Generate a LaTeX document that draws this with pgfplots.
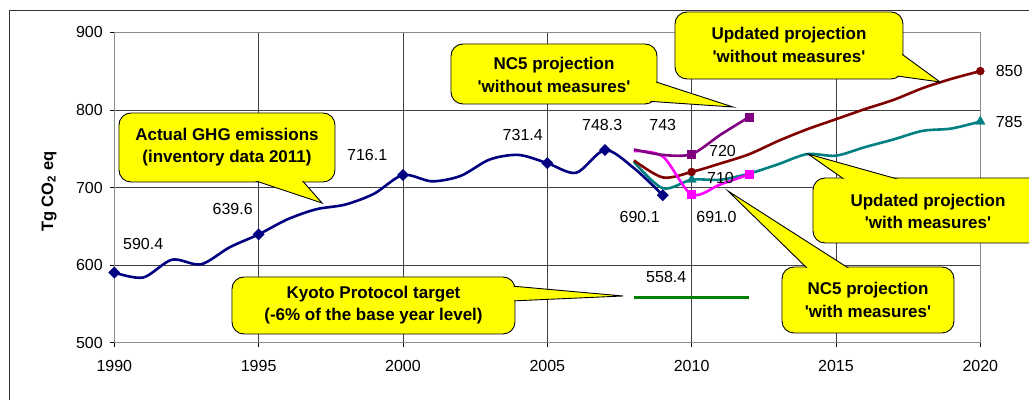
\documentclass[border=0pt]{standalone}
\usepackage{pgfplots}
\pgfplotsset{compat=1.18}
\usepackage{fontspec}
\setmainfont{Liberation Sans}
\definecolor{cnavy}{RGB}{0,0,128}
\definecolor{cpurple}{RGB}{128,0,128}
\definecolor{cmagenta}{RGB}{255,0,255}
\definecolor{cdred}{RGB}{128,0,0}
\definecolor{cteal}{RGB}{0,128,128}
\definecolor{cgreen}{RGB}{0,128,0}
\definecolor{cyellow}{RGB}{255,255,0}
\newcommand{\lf}{\fontsize{16bp}{19bp}\selectfont}
\newcommand{\cbf}{\fontsize{17bp}{22.7bp}\selectfont\bfseries}
\newcommand{\q}{\textquotesingle}
\begin{document}
\lf
\begin{tikzpicture}
\clip (-114.3bp,-57.3bp) rectangle (914.7bp,342.7bp);
\draw[line width=0.8bp, black!80] (-105bp,-90bp) rectangle (960bp,332.4bp);
\begin{axis}[
  at={(0,0)}, anchor=south west,
  scale only axis, width=866bp, height=310.4bp,
  xmin=1990, xmax=2020, ymin=500, ymax=900,
  xtick={1990,1995,...,2020}, ytick={500,600,...,900},
  grid=major, major grid style={black!75, line width=0.6bp},
  axis line style={black!45, line width=0.6bp},
  tick align=outside, tick pos=left, major tick length=4bp,
  tick style={black, line width=0.6bp},
  ticklabel style={font=\lf},
  /pgf/number format/assume math mode=true,
  x tick label style={/pgf/number format/1000 sep={}, yshift=-8bp},
  y tick label style={xshift=-2bp},
  clip=false,
]
\addplot[cteal, line width=2.6bp, smooth, mark=triangle*, mark size=5.5bp,
  mark options={solid, line width=0.4bp}, mark indices={3,13}] coordinates {
(2008,733)(2009,699)(2010,710)(2011,710)(2012,718)(2013,730)(2014,743)(2015,741)(2016,752)(2017,762)(2018,773)(2019,776)(2020,785)};
\addplot[cdred, line width=2.6bp, smooth, mark=*, mark size=4bp,
  mark options={solid, line width=0.4bp}, mark indices={3,13}] coordinates {
(2008,735)(2009,713)(2010,720)(2011,731)(2012,743)(2013,760)(2014,775)(2015,788)(2016,801)(2017,813)(2018,828)(2019,840)(2020,850)};
\addplot[cmagenta, line width=2.6bp, smooth, mark=square*, mark size=4bp,
  mark options={solid, line width=0.4bp}, mark indices={3,5}] coordinates {
(2008,747)(2009,740)(2010,691)(2011,704)(2012,717)};
\addplot[cpurple, line width=2.6bp, smooth, mark=square*, mark size=4bp,
  mark options={solid, line width=0.4bp}, mark indices={3,5}] coordinates {
(2008,749)(2009,742)(2010,743)(2011,768)(2012,791)};
\addplot[cgreen, line width=2.6bp] coordinates {(2008,558.4)(2012,558.4)};
\addplot[cnavy, line width=2.6bp, smooth, mark=square*, mark size=4bp,
  mark options={solid, rotate=45, line width=0.4bp}, mark indices={1,6,11,16,18,20}] coordinates {
(1990,590.4)(1991,584)(1992,607)(1993,601)(1994,623)(1995,639.6)(1996,659)(1997,672)(1998,678)(1999,692)(2000,716.1)(2001,708)(2002,715)(2003,736)(2004,742)(2005,731.4)(2006,719)(2007,748.3)(2008,725)(2009,690.1)};
\node at (axis cs:1991.0,627) {590.4};
\node at (axis cs:1994.1,672) {639.6};
\node at (axis cs:1998.76,742) {716.1};
\node at (axis cs:2004.15,767.6) {731.4};
\node at (axis cs:2006.9,780) {748.3};
\node at (axis cs:2009.0,780) {743};
\node at (axis cs:2011.07,747.5) {720};
\node at (axis cs:2011.0,712) {710};
\node at (axis cs:2008.2,661.6) {690.1};
\node at (axis cs:2010.86,661.6) {691.0};
\node at (axis cs:2009.12,585) {558.4};
\node at (axis cs:2021.0,850.5) {850};
\node at (axis cs:2021.0,785) {785};
\end{axis}
\node[rotate=90, font=\fontsize{16.5bp}{19bp}\selectfont\bfseries] at (-65.3bp,151bp) {Tg CO\textsubscript{2} eq};
\begin{scope}[x=1bp,y=-1bp,shift={(-114.3bp,342.7bp)}]
\tikzset{cbox/.style={fill=cyellow, draw=black, line width=0.9bp, rounded corners=12bp},
         cptr/.style={fill=cyellow, draw=black, line width=0.9bp, line join=miter},
         cfill/.style={fill=cyellow, rounded corners=11bp}}
% Actual GHG emissions
\draw[cbox] (119,113) rectangle (335,182);
\draw[cptr] (247,178) -- (322,203) -- (300,178);
\fill[cfill] (120,114) rectangle (334,181);
\node[align=center, font=\cbf] at (227,147) {Actual GHG emissions\\(inventory data 2011)};
% Kyoto
\draw[cbox] (232,277) rectangle (515,334);
\draw[cptr] (511,286) -- (623,296) -- (511,301);
\fill[cfill] (233,278) rectangle (514,333);
\node[align=center, font=\cbf] at (373.5,305) {Kyoto Protocol target\\(-6\% of the base year level)};
% NC5 without
\draw[cbox] (451,44) rectangle (657,104);
\draw[cptr] (650,80) -- (733,107) -- (630,100);
\fill[cfill] (452,45) rectangle (656,103);
\node[align=center, font=\cbf] at (554,75) {NC5 projection\\\q without measures\q};
% Updated without
\draw[cbox] (675,12) rectangle (903,79);
\draw[cptr] (899,52) -- (940,82) -- (890,75);
\fill[cfill] (676,13) rectangle (902,78);
\node[align=center, font=\cbf] at (789,45) {Updated projection\\\q without measures\q};
% Updated with
\draw[cbox] (813,178) rectangle (1045,243);
\draw[cptr] (848,182) -- (808,154) -- (908,182);
\fill[cfill] (814,179) rectangle (1044,242);
\node[align=center, font=\cbf] at (928,211.3) {Updated projection\\\q with measures\q};
% NC5 with
\draw[cbox] (782,267) rectangle (954,333);
\draw[cptr] (810,271) -- (728,191) -- (853,271);
\fill[cfill] (783,268) rectangle (953,332);
\node[align=center, font=\cbf] at (868,300) {NC5 projection\\\q with measures\q};
\end{scope}
\end{tikzpicture}
\end{document}
